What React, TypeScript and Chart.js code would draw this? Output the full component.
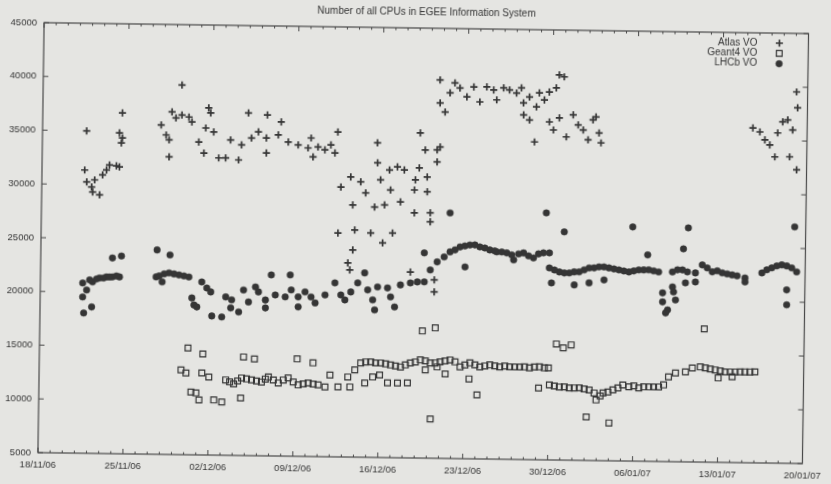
import { useEffect, useRef } from 'react';
import { Chart, registerables } from 'chart.js';
import { drawPoint } from 'chart.js/helpers';

Chart.register(...registerables);

const chartTitle = 'Number of all CPUs in EGEE Information System';
const dateLabels = ['18/11/06', '25/11/06', '02/12/06', '09/12/06', '16/12/06', '23/12/06', '30/12/06', '06/01/07', '13/01/07', '20/01/07'];
const tickDays = [0, 7, 14, 21, 28, 35, 42, 49, 56, 63];
const seriesNames = ['Atlas VO', 'Geant4 VO', 'LHCb VO'];

// days since 18/11/06
const atlasDay = [3.64, 6.56, 6.59, 6.34, 6.51, 3.52, 3.70, 4.35, 4.77, 5.00, 5.32, 5.56, 6.13, 6.38, 4.20, 4.11,
  11.44, 9.77, 10.19, 10.44, 10.65, 10.98, 11.47, 12.05, 12.30, 10.46, 13.67, 13.84, 12.89, 13.32, 13.45, 14.11,
  14.55, 15.12, 16.19, 16.95, 18.51, 15.51, 16.42, 17.23, 17.79, 18.45, 19.43, 19.66, 20.26, 21.08, 21.90, 22.14,
  22.72, 23.29, 23.78, 24.12, 22.32, 24.34, 18.47, 24.65, 25.45, 26.28, 26.70, 27.62, 27.65, 27.91, 28.64, 28.74,
  29.29, 29.86, 30.78, 31.13, 31.56, 31.77, 32.54, 32.78, 32.55, 25.65, 27.45, 28.27, 29.57, 30.73, 32.04, 32.05,
  24.46, 25.84, 27.16, 28.15, 28.96, 25.70, 25.31, 25.48, 30.47, 32.45, 32.46, 31.09, 30.71, 31.75,
  32.70, 32.73, 33.15, 33.54, 33.93, 34.35, 34.93, 35.49, 36.00, 36.56, 37.13, 37.39, 37.95, 38.44, 39.02, 39.60,
  39.42, 40.09, 40.67, 40.90, 41.32, 41.72, 42.29, 42.52, 42.93, 39.62, 40.11, 41.75, 42.09, 42.57, 43.16, 43.71,
  44.13, 44.55, 44.96, 45.35, 45.59, 45.86, 46.03, 40.55,
  62.09, 62.19, 58.53, 59.11, 59.53, 59.94, 60.37, 60.58, 60.98, 61.39, 61.81, 61.59, 62.18];
const atlasCpu = [34980, 36710, 34380, 34840, 33910, 31350, 30240, 30440, 29050, 30910, 31380, 31850, 31770, 31680, 29320, 29780,
  39390, 35640, 34720, 34260, 36870, 36310, 36600, 36420, 35960, 32680, 37290, 36820, 34110, 33090, 35420, 35060,
  32650, 32660, 32490, 36880, 36710, 34340, 33890, 34550, 35120, 34570, 34870, 36080, 34230, 33960, 33700, 34630,
  33810, 33540, 34010, 33270, 32870, 35230, 33180, 30110, 31060, 30610, 29590, 34260, 32400, 30820, 31760, 29900,
  32050, 31780, 30870, 35240, 33670, 29770, 33690, 33970, 32570, 28460, 28300, 28500, 28800, 27800, 27820, 26980,
  25830, 26130, 25880, 24960, 25900, 24270, 23060, 22410, 22300, 21590, 20470, 31990, 29930, 31160,
  40200, 38060, 37230, 39010, 39940, 39480, 38660, 39590, 38210, 39610, 39340, 38420, 39540, 39360, 39090, 38170,
  39570, 38740, 37820, 39120, 38480, 39230, 39610, 40830, 40650, 37060, 36600, 36440, 35700, 36830, 35070, 37120,
  36200, 35740, 34820, 36690, 36970, 35480, 34560, 34560,
  39560, 38080, 36150, 35790, 35050, 34600, 33490, 35720, 36750, 36950, 36020, 33510, 32310];

const geantDay = [12.24, 13.47, 16.83, 17.73, 21.25, 22.56, 11.69, 12.10, 13.41, 13.99, 12.53, 12.94, 13.20, 14.42, 15.08, 16.63,
  15.38, 16.04, 16.69, 17.51, 18.33, 18.90, 19.72, 20.53, 21.36, 22.18, 23.00, 23.57, 23.97, 24.64, 25.44, 25.62,
  26.01, 26.49, 27.31, 28.13, 28.95, 29.77, 30.58, 31.40, 32.22, 33.03, 33.85, 26.84, 27.49, 28.06, 28.72, 29.54,
  30.36, 31.82, 32.79, 31.53, 32.59, 32.28, 34.68, 35.49, 36.31, 37.13, 37.95, 38.77, 39.59, 40.40, 41.22, 41.96,
  33.46, 35.43, 36.10, 42.59, 43.16, 43.81, 42.06, 42.88, 43.70, 44.52, 45.34, 45.92, 46.49, 47.30, 48.11, 48.61,
  49.43, 50.25, 51.06, 41.17, 45.13, 47.01, 51.87, 52.44, 53.26, 53.82, 54.48, 54.89, 55.71, 56.53, 57.35, 58.16,
  58.98, 55.96, 57.11, 54.76,
  15.71, 16.37, 17.10, 17.92, 18.65, 19.31, 20.13, 20.95, 21.77, 22.59,
  26.90, 27.72, 28.54, 29.36, 30.17, 30.99, 31.81, 32.63, 33.44, 34.26, 35.08, 35.90, 36.72, 37.54, 38.36, 39.18,
  39.99, 40.81, 41.63,
  42.47, 43.29, 44.11, 44.93, 45.75, 46.25, 46.89, 47.71, 49.02, 49.84, 50.65, 51.47,
  55.30, 56.12, 56.94, 57.76, 58.57];
const geantCpu = [14930, 14400, 14170, 14000, 14060, 13710, 12880, 12610, 12630, 12260, 10840, 10760, 10110, 10130, 9960, 10350,
  12010, 11650, 12220, 12040, 11870, 12340, 11800, 12280, 11640, 11840, 11670, 11490, 12610, 11510, 12450, 11520,
  13110, 13770, 13880, 13800, 13620, 13450, 13840, 14130, 13860, 13970, 14170, 11910, 12480, 12680, 11950, 11960,
  11970, 13210, 13500, 16830, 17130, 8650, 13530, 13920, 13560, 13760, 13580, 13600, 13610, 13530, 13640, 13560,
  12860, 12430, 10950, 15800, 15440, 15730, 11980, 11800, 11720, 11740, 11560, 10640, 11300, 11600, 12070, 11900,
  11820, 11920, 11940, 11680, 9050, 8520, 12880, 13260, 13370, 13750, 13850, 13770, 13590, 13420, 13430, 13450,
  13460, 12850, 12970, 17390,
  11830, 11930, 12130, 11960, 12150, 12070, 12080, 11910, 11740, 11750,
  13870, 13790, 13710, 13540, 13640, 13940, 14040, 13870, 14070, 13990, 13720, 13740, 13660, 13670, 13680, 13600,
  13620, 13630, 13550,
  11890, 11810, 11730, 11650, 11290, 11020, 11400, 11790, 12000, 11920, 11930, 12130,
  13680, 13510, 13430, 13440, 13450];

const lhcbDay = [5.91, 6.65, 9.58, 10.65, 3.49, 3.82, 3.50, 4.30, 4.87, 5.44, 5.93, 6.51, 4.25, 3.60, 9.53, 10.03,
  10.59, 11.41, 12.23, 13.30, 13.72, 14.05, 12.50, 12.68, 12.92, 14.16, 14.98, 15.29, 15.78, 15.71, 16.37, 16.75,
  17.17, 17.73, 17.98, 18.56, 18.57, 19.02, 19.37, 20.19, 20.58, 20.68, 21.26, 21.27, 21.82, 22.32, 22.66, 23.47,
  24.27, 24.77, 25.11, 25.59, 26.15, 26.71, 26.98, 27.40, 27.57, 27.79, 28.61, 28.87, 29.21, 29.67, 30.49, 31.06,
  31.63, 31.60, 32.11, 32.67, 33.24, 33.72, 34.54, 35.35, 36.17, 36.99, 37.57, 38.39, 38.97, 39.78, 40.60, 41.42,
  41.91, 34.97, 41.92, 42.75, 43.57, 44.38, 45.20, 46.01, 46.83, 47.65, 48.48, 49.29, 50.11, 50.93, 42.11, 43.99,
  45.21, 46.44, 50.01, 52.95, 43.11, 52.07, 52.89, 53.96, 54.52, 55.35, 56.17, 56.99, 58.05, 58.06, 52.09, 51.28,
  51.29, 52.18, 52.35, 51.71, 51.55, 53.15, 53.97, 59.44, 60.25, 61.07, 61.89, 62.30, 61.50, 61.52, 33.68, 41.61,
  48.75, 53.33, 62.09,
  4.06, 4.63, 5.20, 5.69, 6.26, 9.78, 10.19, 11.00, 11.82,
  34.13, 34.94, 35.76, 36.58, 37.40, 37.98, 38.80, 39.37, 40.19, 41.01,
  42.34, 43.16, 43.97, 44.79, 45.61, 46.42, 47.24, 48.06, 48.88, 49.70, 50.52,
  52.48, 53.30, 54.93, 55.76, 56.58, 57.40, 59.84, 60.66, 61.48];
const lhcbCpu = [23200, 23400, 24010, 23560, 20840, 20190, 19540, 20950, 21330, 21430, 21440, 21450, 18620, 18050, 21500, 21040,
  21890, 21710, 21540, 21090, 20540, 20170, 19590, 18940, 18760, 17940, 17860, 19730, 19460, 18710, 18350, 20400,
  19290, 20700, 20240, 19500, 18760, 21840, 19980, 19810, 21860, 20470, 19830, 18900, 20300, 19840, 19290, 20050,
  21180, 20070, 19610, 20360, 21210, 22150, 20570, 19650, 18720, 20860, 20780, 19950, 19020, 21080, 21280, 21380,
  21390, 24090, 22510, 23270, 23740, 24220, 24690, 24890, 24720, 24450, 24280, 24200, 23560, 24220, 23770, 24250,
  24260, 22840, 22860, 22500, 22420, 22530, 22910, 23020, 22940, 22770, 22590, 22790, 22810, 22630, 21470, 21310,
  21520, 21820, 24200, 24810, 26230, 22650, 22850, 22590, 23340, 22710, 22630, 22450, 22190, 21820, 21260, 20690,
  19850, 20790, 20050, 19110, 18830, 21650, 21750, 22680, 23160, 23450, 23180, 22820, 21130, 19740, 27840, 27970,
  26780, 26770, 27000,
  21130, 21230, 21330, 21430, 21540, 21590, 21790, 21800, 21630,
  24410, 24790, 24900, 24630, 24370, 24280, 24020, 24120, 23950, 24150,
  22680, 22410, 22520, 22720, 22920, 23030, 22850, 22680, 22690, 22800, 22720,
  22850, 22670, 23070, 22810, 22540, 22370, 22970, 23350, 23360];

const INK = '#353535';
const PAPER = '#e5e5e2';
const FONT = "'Liberation Sans', Arial, sans-serif";

const toPoints = (xs: number[], ys: number[]) => xs.map((x, i) => ({ x, y: ys[i] }));

const framePlugin = {
  id: 'gnuplotFrame',
  afterDraw(chart: any) {
    const { ctx, chartArea, scales } = chart;
    const { left, right, top, bottom } = chartArea;
    const xs = scales.x;
    const ys = scales.y;
    ctx.save();
    ctx.strokeStyle = '#484848';
    ctx.lineWidth = 1.2;
    ctx.strokeRect(left, top, right - left, bottom - top);
    ctx.lineWidth = 1;
    ctx.beginPath();
    for (let d = Math.ceil(xs.min); d <= xs.max; d += 1) {
      const px = xs.getPixelForValue(d);
      const len = tickDays.includes(d) ? 5 : 2.5;
      ctx.moveTo(px, bottom);
      ctx.lineTo(px, bottom - len);
      ctx.moveTo(px, top);
      ctx.lineTo(px, top + len);
    }
    ys.ticks.forEach((t: any) => {
      const py = ys.getPixelForValue(t.value);
      ctx.moveTo(left, py);
      ctx.lineTo(left + 5, py);
      ctx.moveTo(right, py);
      ctx.lineTo(right - 5, py);
    });
    ctx.stroke();

    // title
    ctx.fillStyle = INK;
    ctx.font = `10px ${FONT}`;
    ctx.textAlign = 'center';
    ctx.textBaseline = 'middle';
    ctx.fillText(chartTitle, (left + right) / 2, 12);

    // legend (text right-justified, sample on the right)
    chart.data.datasets.forEach((ds: any, i: number) => {
      const yy = top + 10 + i * 10.3;
      ctx.fillStyle = INK;
      ctx.textAlign = 'right';
      ctx.fillText(ds.label, right - 51, yy);
      ctx.strokeStyle = ds.borderColor;
      ctx.fillStyle = ds.backgroundColor;
      ctx.lineWidth = ds.borderWidth;
      drawPoint(ctx, { pointStyle: ds.pointStyle, radius: ds.pointRadius, borderWidth: ds.borderWidth, rotation: 0 } as any, right - 29, yy);
    });
    ctx.restore();
  },
};

export default function App() {
  const ref = useRef<HTMLCanvasElement>(null);
  useEffect(() => {
    const tickFont = { family: FONT, size: 9.5 };
    const chart = new Chart(ref.current as HTMLCanvasElement, {
      type: 'scatter',
      data: {
        datasets: [
          {
            label: seriesNames[0],
            data: toPoints(atlasDay, atlasCpu),
            pointStyle: 'cross',
            pointRadius: 3.6,
            borderWidth: 1.7,
            borderColor: INK,
            backgroundColor: INK,
          },
          {
            label: seriesNames[1],
            data: toPoints(geantDay, geantCpu),
            pointStyle: 'rect',
            pointRadius: 4.1,
            borderWidth: 1.2,
            borderColor: INK,
            backgroundColor: 'rgba(0,0,0,0)',
          },
          {
            label: seriesNames[2],
            data: toPoints(lhcbDay, lhcbCpu),
            pointStyle: 'circle',
            pointRadius: 3.3,
            borderWidth: 0.5,
            borderColor: INK,
            backgroundColor: INK,
          },
        ],
      },
      plugins: [framePlugin],
      options: {
        responsive: false,
        animation: false,
        devicePixelRatio: 1,
        events: [],
        layout: { padding: { top: 28, right: 20, left: 0, bottom: 0 } },
        plugins: {
          legend: { display: false },
          title: { display: false },
          tooltip: { enabled: false },
        },
        scales: {
          x: {
            type: 'linear',
            min: 0,
            max: 63,
            afterBuildTicks: (s: any) => {
              s.ticks = tickDays.map((v) => ({ value: v }));
            },
            afterFit: (s: any) => {
              s.height = 26;
            },
            grid: { display: false, drawTicks: false },
            border: { display: false },
            ticks: {
              autoSkip: false,
              maxRotation: 0,
              padding: 7,
              color: INK,
              font: tickFont,
              callback: (_v: any, i: number) => dateLabels[i],
            },
          },
          y: {
            min: 5000,
            max: 45000,
            afterFit: (s: any) => {
              s.width = 41;
            },
            grid: { display: false, drawTicks: false },
            border: { display: false },
            ticks: {
              stepSize: 5000,
              padding: 7,
              color: INK,
              font: tickFont,
              callback: (v: any) => String(v),
            },
          },
        },
      },
    } as any);
    return () => chart.destroy();
  }, []);

  return (
    <div style={{ position: 'fixed', left: 0, top: 0, width: '100%', height: '100%', overflow: 'hidden', background: PAPER }}>
      <canvas
        ref={ref}
        width={831}
        height={484}
        style={{ position: 'absolute', left: 0, top: 0, width: 831, height: 484, transform: 'rotate(0.82deg)', transformOrigin: '50% 50%' }}
      />
    </div>
  );
}
